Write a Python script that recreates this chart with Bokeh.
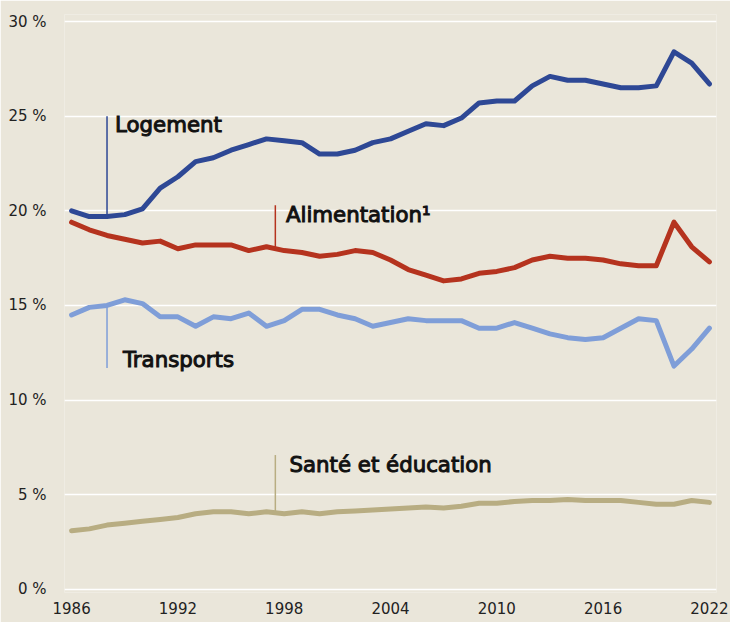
from bokeh.plotting import figure
from bokeh.models import FixedTicker, Range1d
from bokeh.core.properties import value
from bokeh.embed import file_html
from bokeh.resources import INLINE

years = list(range(1986, 2023))
logement = [20.0, 19.7, 19.7, 19.8, 20.1, 21.2, 21.8, 22.6, 22.8, 23.2, 23.5, 23.8, 23.7,
            23.6, 23.0, 23.0, 23.2, 23.6, 23.8, 24.2, 24.6, 24.5, 24.9, 25.7, 25.8, 25.8,
            26.6, 27.1, 26.9, 26.9, 26.7, 26.5, 26.5, 26.6, 28.4, 27.8, 26.7]
alimentation = [19.4, 19.0, 18.7, 18.5, 18.3, 18.4, 18.0, 18.2, 18.2, 18.2, 17.9, 18.1, 17.9,
                17.8, 17.6, 17.7, 17.9, 17.8, 17.4, 16.9, 16.6, 16.3, 16.4, 16.7, 16.8, 17.0,
                17.4, 17.6, 17.5, 17.5, 17.4, 17.2, 17.1, 17.1, 19.4, 18.1, 17.3]
transports = [14.5, 14.9, 15.0, 15.3, 15.1, 14.4, 14.4, 13.9, 14.4, 14.3, 14.6, 13.9, 14.2,
              14.8, 14.8, 14.5, 14.3, 13.9, 14.1, 14.3, 14.2, 14.2, 14.2, 13.8, 13.8, 14.1,
              13.8, 13.5, 13.3, 13.2, 13.3, 13.8, 14.3, 14.2, 11.8, 12.7, 13.8]
sante = [3.1, 3.2, 3.4, 3.5, 3.6, 3.7, 3.8, 4.0, 4.1, 4.1, 4.0, 4.1, 4.0,
         4.1, 4.0, 4.1, 4.15, 4.2, 4.25, 4.3, 4.35, 4.3, 4.4, 4.55, 4.55, 4.65,
         4.7, 4.7, 4.75, 4.7, 4.7, 4.7, 4.6, 4.5, 4.5, 4.7, 4.6]

x_ticks = [1986, 1992, 1998, 2004, 2010, 2016, 2022]
y_ticks = [0, 5, 10, 15, 20, 25, 30]
y_labels = {t: f"{t} %" for t in y_ticks}

labels = ["Logement", "Alimentation\u00b9", "Transports", "Sant\u00e9 et \u00e9ducation"]
label_x = [1988.45, 1998.1, 1988.9, 1998.3]
label_y = [24.57, 19.82, 12.17, 6.62]
lead_x = [1988, 1997.5, 1988, 1997.5]
lead_y0 = [19.7, 18.0, 15.0, 4.0]
lead_y1 = [25.0, 20.3, 11.7, 7.1]

bg = "#EAE6DA"
colors = ["#2E4895", "#B5331E", "#7F9ED8", "#B8AD82"]

p = figure(width=730, height=622, output_backend="svg", toolbar_location=None,
           x_range=Range1d(1985.6, 2022.4), y_range=Range1d(-0.16, 30.37),
           min_border_left=64, min_border_right=14, min_border_top=14, min_border_bottom=30,
           background_fill_color=bg, border_fill_color=bg, outline_line_color=None)

p.xgrid.grid_line_color = None
p.ygrid.grid_line_color = "white"
p.ygrid.grid_line_width = 1.5
p.ygrid.ticker = FixedTicker(ticks=y_ticks)

p.xaxis.ticker = FixedTicker(ticks=x_ticks)
p.yaxis.ticker = FixedTicker(ticks=y_ticks)
p.yaxis.major_label_overrides = y_labels
for ax in (p.xaxis, p.yaxis):
    ax.axis_line_color = None
    ax.major_tick_line_color = None
    ax.minor_tick_line_color = None
    ax.major_label_text_font = "DejaVu Sans"
    ax.major_label_text_font_size = "15px"
    ax.major_label_text_color = "#222222"
p.yaxis.major_label_standoff = 12
p.xaxis.major_label_standoff = 3

for i in range(4):
    p.segment(x0=[lead_x[i]], y0=[lead_y0[i]], x1=[lead_x[i]], y1=[lead_y1[i]],
              line_color=colors[i], line_width=1.5)

for series, c in zip([sante, transports, alimentation, logement], colors[::-1]):
    p.line(years, series, line_color=c, line_width=5, line_join="round", line_cap="round")

p.text(x=label_x, y=label_y, text=labels, text_font=value("DejaVu Sans"),
       text_font_size="21.3px", text_color="#111111", text_outline_color="#111111",
       text_baseline="alphabetic", text_align="left")

open("out.html", "w").write(file_html(p, INLINE))
